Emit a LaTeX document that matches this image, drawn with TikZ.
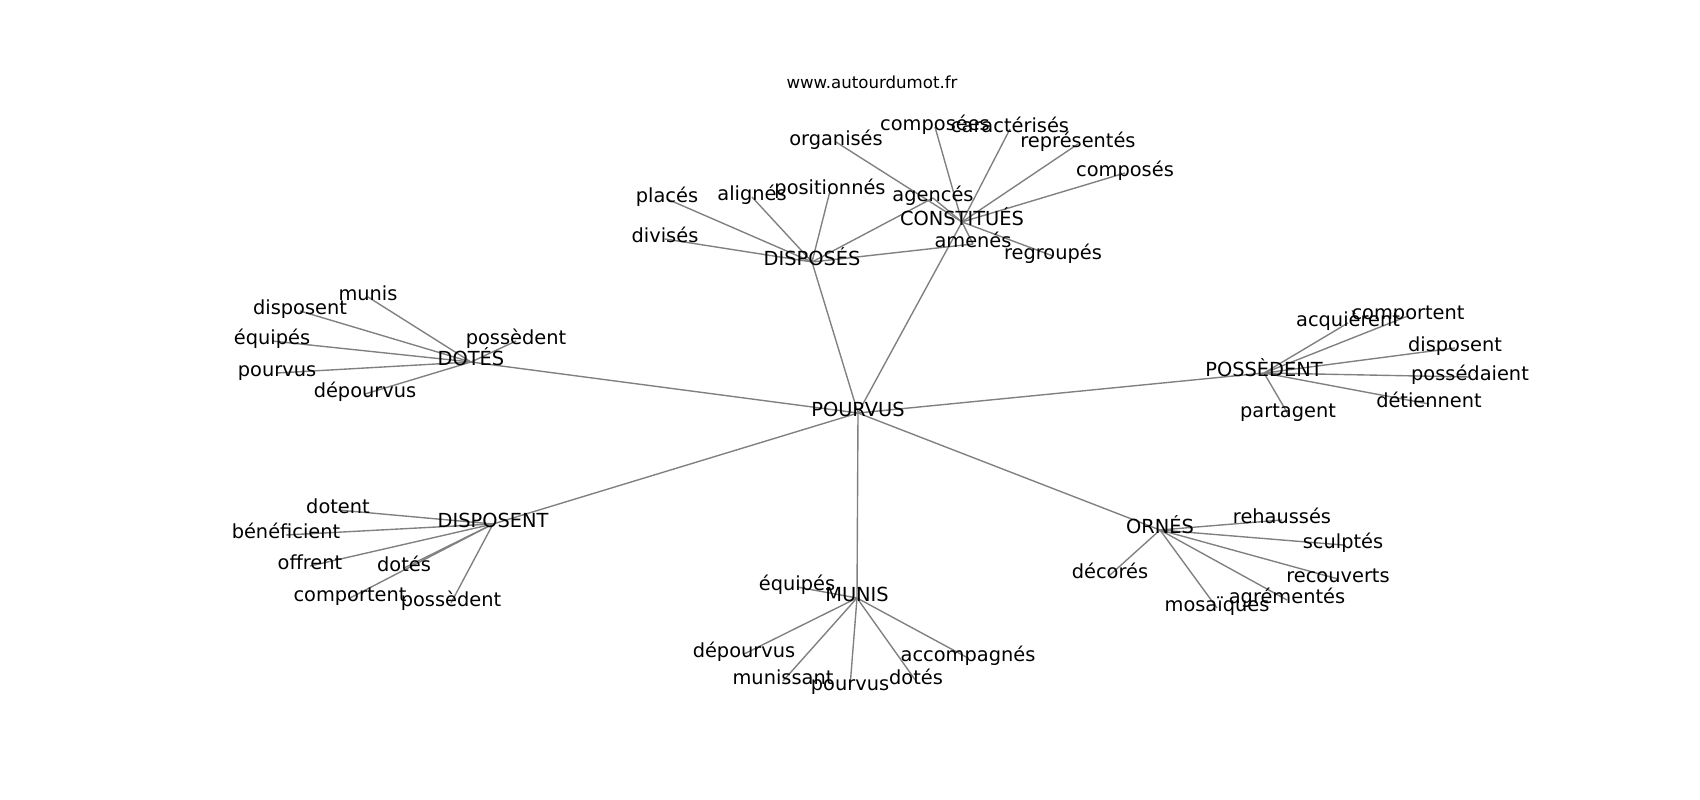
\documentclass[tikz,border=0pt]{standalone}
\usepackage{fontspec}
\setmainfont{DejaVu Sans}
\usetikzlibrary{backgrounds}
\tikzset{
	word/.style={inner sep=0pt, text height=0.74em, text depth=0.22em, font=\fontsize{14}{16}\selectfont},
	link/.style={line width=1pt, color=black!50},
}

\begin{document}
\begin{tikzpicture}[x=0.01in, y=-0.01in]
			%%%%% START %%%%%
			\useasboundingbox (0, 0) rectangle (1700, 800);
			
			\node[inner sep=0pt, font=\fontsize{12}{14}\selectfont] (site) at (872, 82) {www.autourdumot.fr};
			
			\begin{scope}[yshift=-0.04in]
			\node[word] (pourvus) at (858, 409) {POURVUS};
			
			% DISPOSES / CONSTITUES
			\node[word] (disposes) at (812, 258) {DISPOSÉS};
			\node[word] (constitues) at (962, 218) {CONSTITUÉS};
			\node[word] (places) at (667, 195) {placés};
			\node[word] (alignes) at (752, 193) {alignés};
			\node[word] (positionnes) at (830, 187) {positionnés};
			\node[word] (divises) at (665, 235) {divisés};
			\node[word] (agences) at (933, 194) {agencés};
			\node[word] (amenes) at (973, 240) {amenés};
			\node[word] (organises) at (836, 138) {organisés};
			\node[word] (composees) at (935, 123) {composées};
			\node[word] (caracterises) at (1010, 125) {caractérisés};
			\node[word] (representes) at (1078, 140) {représentés};
			\node[word] (composes) at (1125, 169) {composés};
			\node[word] (regroupes) at (1053, 252) {regroupés};
			
			% DOTES
			\node[word] (dotes) at (471, 358) {DOTÉS};
			\node[word] (dotes-munis) at (368, 293) {munis};
			\node[word] (dotes-disposent) at (300, 307) {disposent};
			\node[word] (dotes-equipes) at (272, 337) {équipés};
			\node[word] (dotes-possedent) at (516, 337) {possèdent};
			\node[word] (dotes-pourvus) at (277, 369) {pourvus};
			\node[word] (dotes-depourvus) at (365, 390) {dépourvus};
			
			% POSSEDENT
			\node[word] (possedent) at (1264, 369) {POSSÈDENT};
			\node[word] (acquierent) at (1348, 319) {acquièrent};
			\node[word] (poss-comportent) at (1408, 312) {comportent};
			\node[word] (poss-disposent) at (1455, 344) {disposent};
			\node[word] (possedaient) at (1470, 373) {possédaient};
			\node[word] (detiennent) at (1429, 400) {détiennent};
			\node[word] (partagent) at (1288, 410) {partagent};
			
			% DISPOSENT
			\node[word] (disposent) at (493, 520) {DISPOSENT};
			\node[word] (dotent) at (338, 506) {dotent};
			\node[word] (beneficient) at (286, 531) {bénéficient};
			\node[word] (offrent) at (310, 562) {offrent};
			\node[word] (disp-dotes) at (404, 564) {dotés};
			\node[word] (disp-comportent) at (350, 594) {comportent};
			\node[word] (disp-possedent) at (451, 599) {possèdent};
			
			% MUNIS
			\node[word] (munis) at (857, 594) {MUNIS};
			\node[word] (munis-equipes) at (797, 583) {équipés};
			\node[word] (munis-depourvus) at (744, 650) {dépourvus};
			\node[word] (munissant) at (783, 677) {munissant};
			\node[word] (munis-pourvus) at (850, 683) {pourvus};
			\node[word] (munis-dotes) at (916, 677) {dotés};
			\node[word] (accompagnes) at (968, 654) {accompagnés};
			
			% ORNES
			\node[word] (ornes) at (1160, 526) {ORNÉS};
			\node[word] (rehausses) at (1282, 516) {rehaussés};
			\node[word] (sculptes) at (1343, 541) {sculptés};
			\node[word] (recouverts) at (1338, 575) {recouverts};
			\node[word] (agrementes) at (1287, 596) {agrémentés};
			\node[word] (mosaiques) at (1217, 604) {mosaïques};
			\node[word] (decores) at (1110, 571) {décorés};
			\end{scope}
			
			\begin{scope}[on background layer]
				\foreach \h in {disposes, constitues, dotes, possedent, disposent, munis, ornes}
					\draw[link] (pourvus.center) -- (\h.center);
				\foreach \w in {places, alignes, positionnes, divises, agences, amenes}
					\draw[link] (disposes.center) -- (\w.center);
				\foreach \w in {agences, amenes, organises, composees, caracterises, representes, composes, regroupes}
					\draw[link] (constitues.center) -- (\w.center);
				\foreach \w in {dotes-munis, dotes-disposent, dotes-equipes, dotes-possedent, dotes-pourvus, dotes-depourvus}
					\draw[link] (dotes.center) -- (\w.center);
				\foreach \w in {acquierent, poss-comportent, poss-disposent, possedaient, detiennent, partagent}
					\draw[link] (possedent.center) -- (\w.center);
				\foreach \w in {dotent, beneficient, offrent, disp-dotes, disp-comportent, disp-possedent}
					\draw[link] (disposent.center) -- (\w.center);
				\foreach \w in {munis-equipes, munis-depourvus, munissant, munis-pourvus, munis-dotes, accompagnes}
					\draw[link] (munis.center) -- (\w.center);
				\foreach \w in {rehausses, sculptes, recouverts, agrementes, mosaiques, decores}
					\draw[link] (ornes.center) -- (\w.center);
			\end{scope}
			
			%%%%% END %%%%%
\end{tikzpicture}
\end{document}
